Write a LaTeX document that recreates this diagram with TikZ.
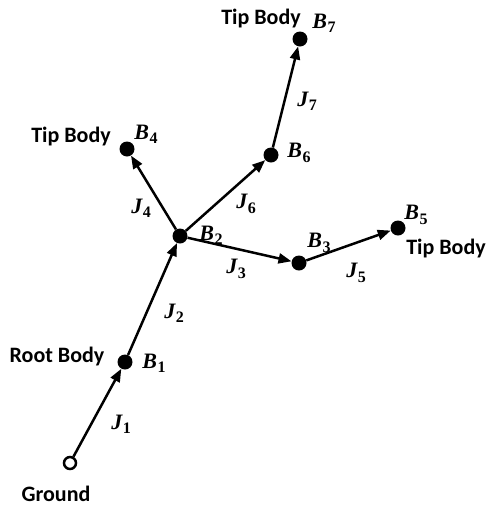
\documentclass[tikz,border=0pt]{standalone}
\usepackage{fontspec}
\setmainfont{Carlito}
\newfontfamily\symfont{Liberation Serif}
\usetikzlibrary{arrows.meta}

% body / joint symbol with subscript
\newcommand{\symb}[2]{{\symfont\bfseries\itshape #1\kern0.5pt\raisebox{-0.2em}{\fontsize{16}{16}\selectfont\upshape #2}}}

\begin{document}
\begin{tikzpicture}[
        x=1pt, y=-1pt,
        body/.style={circle, fill=black, minimum size=15pt, inner sep=0pt},
        ground/.style={circle, draw, line width=2.5pt, fill=white, minimum size=12pt, inner sep=0pt},
        joint/.style={line width=2.5pt, -{Triangle[length=13pt, width=10pt]}},
        body_label/.style={font=\fontsize{22}{24}\selectfont\bfseries, inner sep=0.5pt},
        sym_label/.style={font=\fontsize{22}{24}\selectfont, inner sep=1pt},
    ]
    \useasboundingbox (0,0) rectangle (491,507);

    % Bodies
    \node[ground] (g) at (70,463) {};
    \node[body] (b1) at (125,362) {};
    \node[body] (b2) at (180,236) {};
    \node[body] (b3) at (299,263) {};
    \node[body] (b4) at (127,149) {};
    \node[body] (b5) at (398,228) {};
    \node[body] (b6) at (271,155) {};
    \node[body] (b7) at (300,39) {};

    % Joints
    \foreach \a/\b in {g/b1, b1/b2, b2/b4, b2/b6, b2/b3, b3/b5, b6/b7} {
        \draw[joint] (\a) -- (\b);
    }

    % Body names
    \node[body_label] (t_ground) at (56,494) {Ground};
    \node[body_label] (t_root) at (57,357) {Root Body};
    \node[body_label] (t_tip4) at (71,137) {Tip Body};
    \node[body_label] (t_tip7) at (261,19) {Tip Body};
    \node[body_label] (t_tip5) at (446,249) {Tip Body};

    % Body symbols
    \node[sym_label] (s_b1) at (154,363) {\symb{B}{1}};
    \node[sym_label] (s_b2) at (211,235) {\symb{B}{2}};
    \node[sym_label] (s_b3) at (319,243) {\symb{B}{3}};
    \node[sym_label] (s_b4) at (146,134) {\symb{B}{4}};
    \node[sym_label] (s_b5) at (416,215) {\symb{B}{5}};
    \node[sym_label] (s_b6) at (299,153) {\symb{B}{6}};
    \node[sym_label] (s_b7) at (324,23) {\symb{B}{7}};

    % Joint symbols
    \node[sym_label] (s_j1) at (121,424) {\symb{J}{1}};
    \node[sym_label] (s_j2) at (174,313) {\symb{J}{2}};
    \node[sym_label] (s_j3) at (236,269) {\symb{J}{3}};
    \node[sym_label] (s_j4) at (141,208) {\symb{J}{4}};
    \node[sym_label] (s_j5) at (356,273) {\symb{J}{5}};
    \node[sym_label] (s_j6) at (246,204) {\symb{J}{6}};
    \node[sym_label] (s_j7) at (307,101) {\symb{J}{7}};

\end{tikzpicture}
\end{document}
